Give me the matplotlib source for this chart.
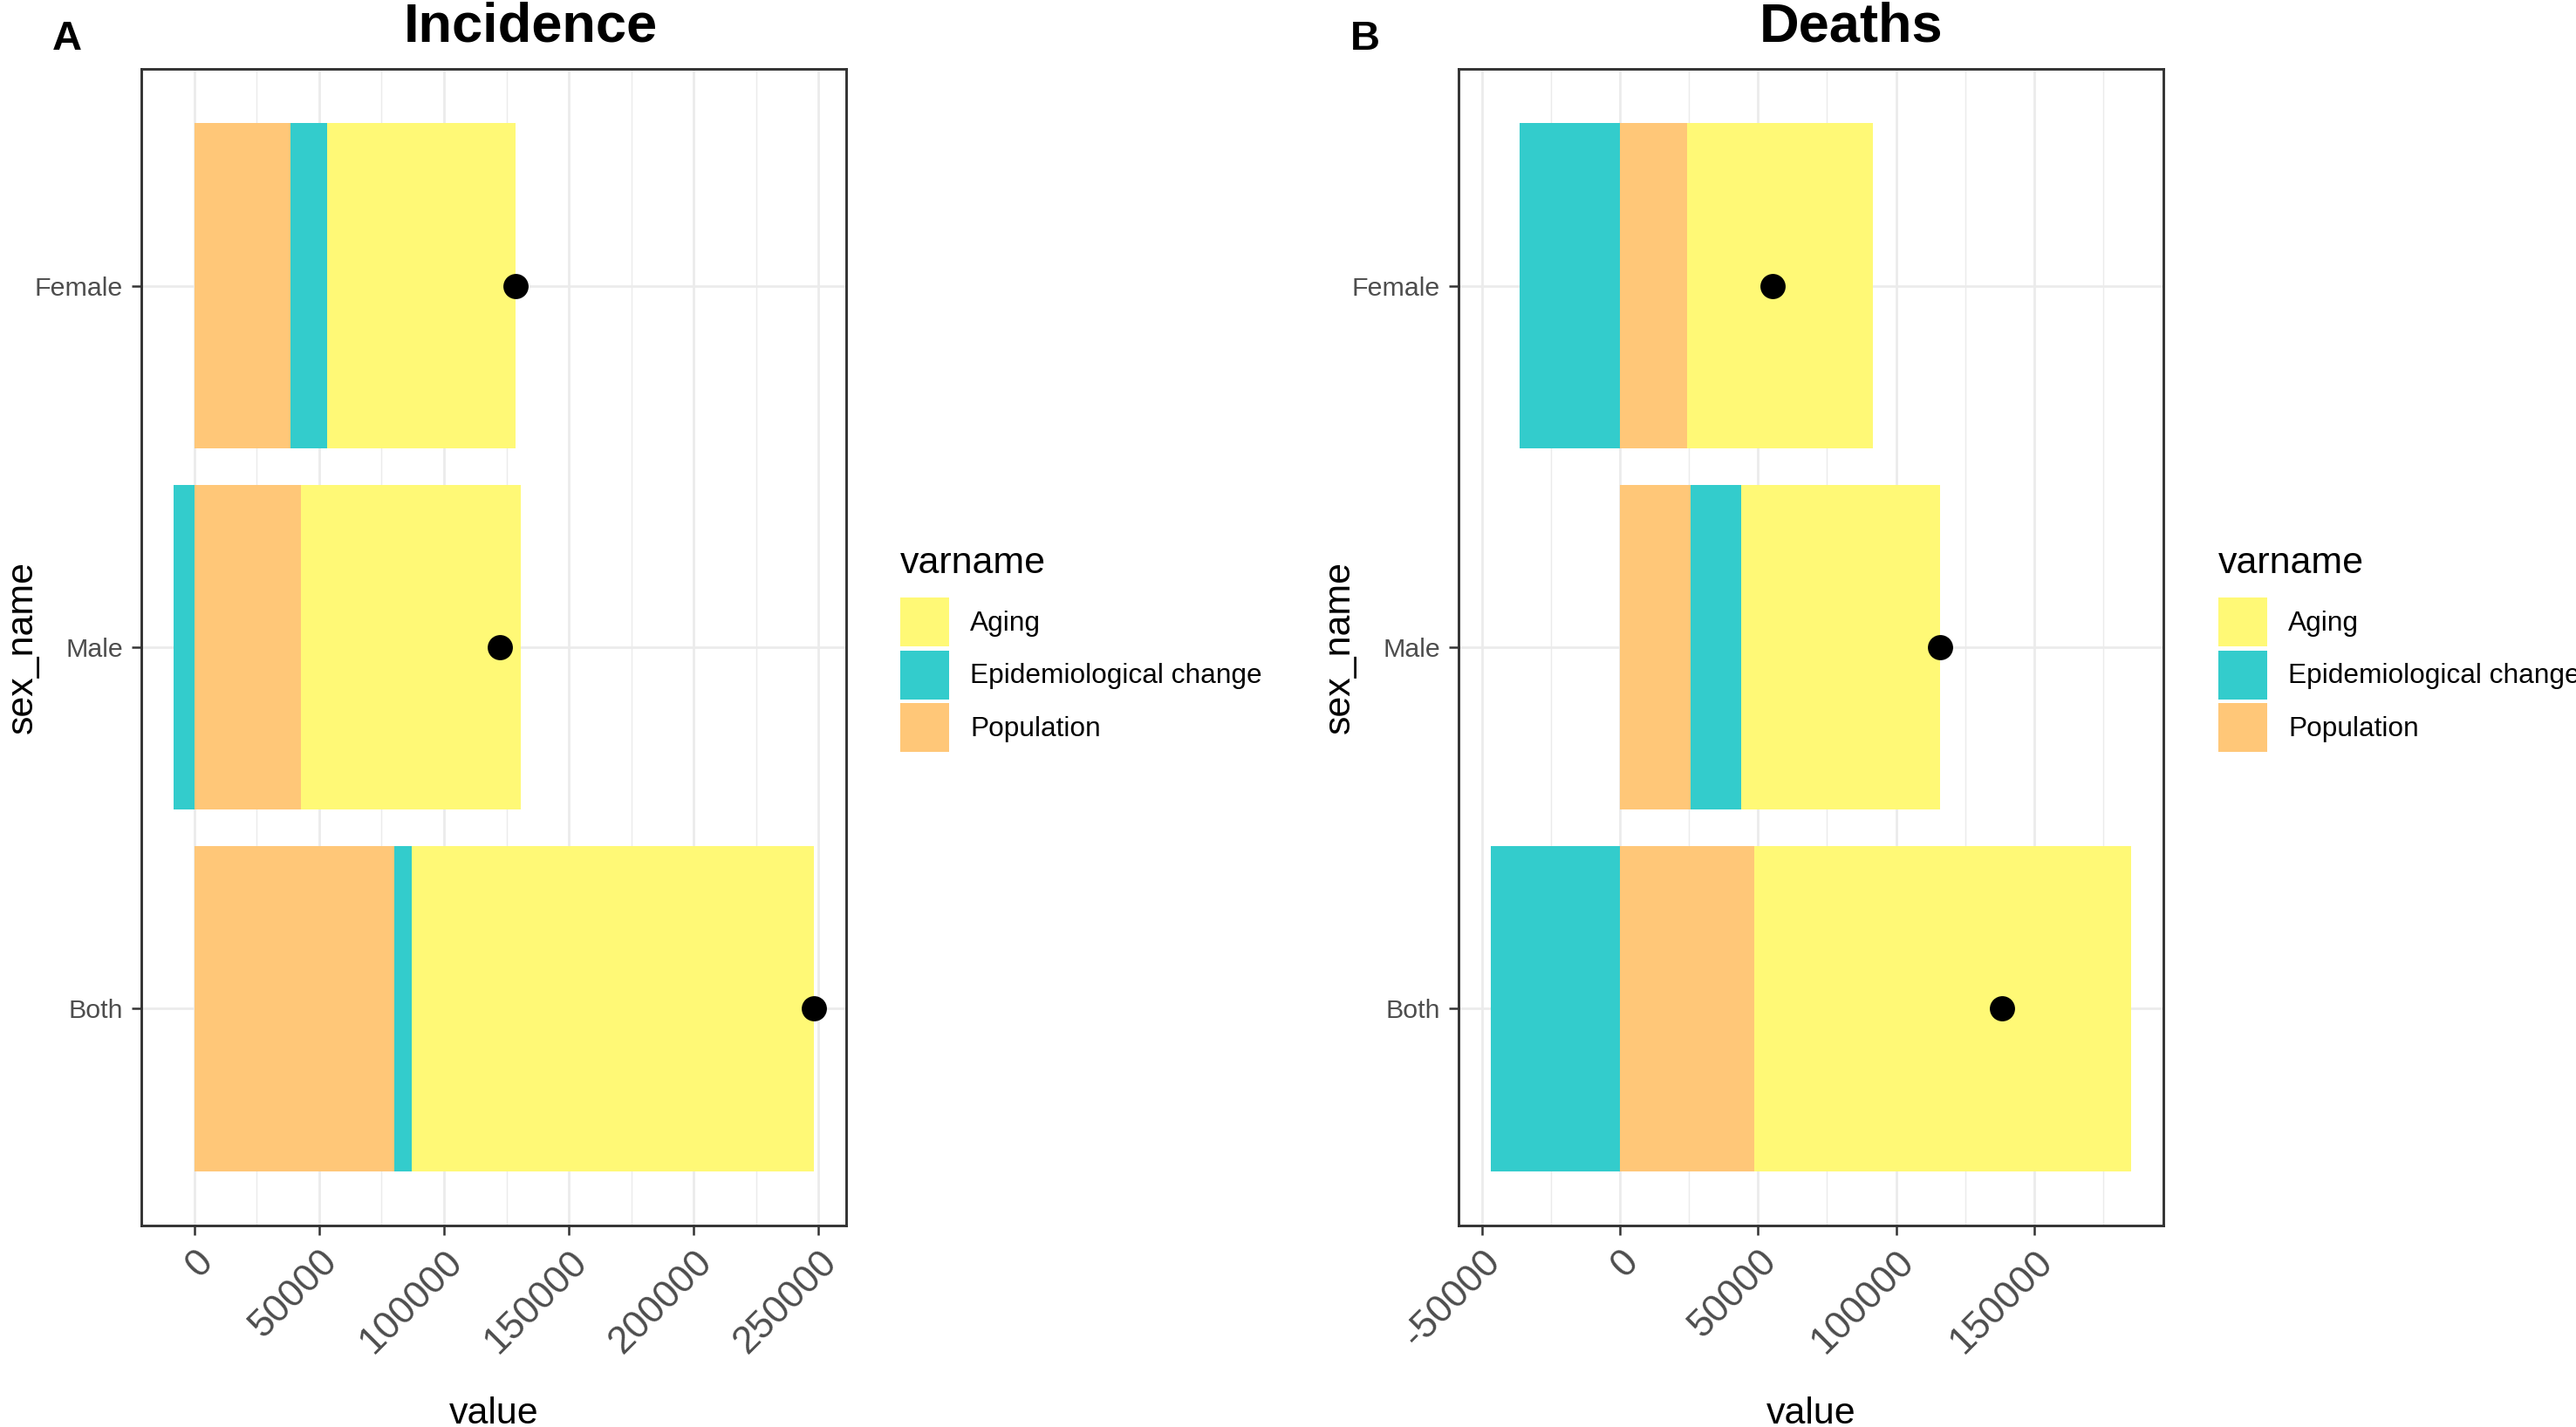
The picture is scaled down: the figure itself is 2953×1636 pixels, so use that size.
import numpy as np
import matplotlib
matplotlib.use("Agg")
import matplotlib.pyplot as plt
from matplotlib.patches import Patch
from matplotlib.ticker import MultipleLocator

plt.rcParams['font.family'] = ['Liberation Sans', 'DejaVu Sans']

# ---------------- data ----------------
categories = ["Both", "Male", "Female"]
varnames = ["Aging", "Epidemiological change", "Population"]
stack_order = ["Population", "Epidemiological change", "Aging"]
colors = {"Aging": "#FFF976", "Epidemiological change": "#33CCCC", "Population": "#FFC778"}

# Incidence
inc_population = [80000, 42600, 38500]
inc_epi = [7200, -8400, 14600]
inc_aging = [161000, 88000, 75500]

# Deaths
dea_population = [48700, 25500, 24300]
dea_epi = [-46800, 18400, -36200]
dea_aging = [136500, 71900, 67200]

panels = [
    ("A", "Incidence", {"Population": inc_population, "Epidemiological change": inc_epi, "Aging": inc_aging},
     [0, 50000, 100000, 150000, 200000, 250000]),
    ("B", "Deaths", {"Population": dea_population, "Epidemiological change": dea_epi, "Aging": dea_aging},
     [-50000, 0, 50000, 100000, 150000]),
]

W, H = 2953, 1636
DPI = 300
fig = plt.figure(figsize=(W / DPI, H / DPI), dpi=DPI)

def fx(px):
    return px / W

def fy(py):
    return 1 - py / H

ax_left_px = [162, 1672]
ax_w_px = 808
ax_top_px, ax_bot_px = 79, 1405
grid_col = "#EBEBEB"
txt_grey = "#4D4D4D"

for i, (tag, title, vals, ticks) in enumerate(panels):
    L = ax_left_px[i]
    ax = fig.add_axes([fx(L), fy(ax_bot_px), ax_w_px / W, (ax_bot_px - ax_top_px) / H])
    y = np.arange(1, len(categories) + 1)
    pos_cum = np.zeros(len(categories))
    neg_cum = np.zeros(len(categories))
    for v in stack_order:
        arr = np.array(vals[v], dtype=float)
        left = np.where(arr >= 0, pos_cum, neg_cum + arr)
        ax.barh(y, np.abs(arr), left=left, height=0.9, color=colors[v], zorder=2, linewidth=0)
        pos_cum = pos_cum + np.where(arr >= 0, arr, 0)
        neg_cum = neg_cum + np.where(arr < 0, arr, 0)
    total = sum(np.array(vals[v], dtype=float) for v in stack_order)
    ax.scatter(total, y, s=48, color="black", zorder=3, linewidths=0)

    lo, hi = neg_cum.min(), pos_cum.max()
    pad = 0.05 * (hi - lo)
    ax.set_xlim(lo - pad, hi + pad)
    ax.set_ylim(0.4, len(categories) + 0.6)

    ax.set_xticks(ticks)
    ax.set_xticklabels([str(t) for t in ticks], rotation=45, ha="right", va="top",
                       rotation_mode="anchor", color=txt_grey, fontsize=10.6)
    ax.xaxis.set_minor_locator(MultipleLocator(25000))
    ax.set_yticks(y)
    ax.set_yticklabels(categories, color=txt_grey, fontsize=7.3)
    ax.tick_params(axis="both", which="major", length=2.6, width=0.6, color="#333333", pad=2.4)
    ax.tick_params(axis="x", which="minor", length=0)
    ax.grid(True, which="major", color=grid_col, linewidth=0.65, zorder=0)
    ax.grid(True, which="minor", axis="x", color=grid_col, linewidth=0.35, zorder=0)
    ax.set_axisbelow(True)
    for s in ax.spines.values():
        s.set_color("#333333")
        s.set_linewidth(0.7)

    # titles & tags
    cx = [608, 2122][i]
    fig.text(fx(cx), fy(47), title, ha="center", va="baseline", fontsize=15.2, fontweight="bold")
    fig.text(fx([60, 1548][i]), fy(57), tag, ha="left", va="baseline", fontsize=11.3, fontweight="bold")
    # axis titles
    fig.text(fx(L + ax_w_px / 2), fy(1632), "value", ha="center", va="baseline", fontsize=10.3)
    fig.text(fx([26, 1536][i]), fy((ax_top_px + ax_bot_px) / 2), "sex_name", ha="center", va="center",
             rotation=90, fontsize=10.3)

    # legend
    handles = [Patch(facecolor=colors[v], edgecolor="none", label=v) for v in varnames]
    leg = fig.legend(handles=handles, title="varname", loc="upper left",
                     bbox_to_anchor=(fx([1032, 2543][i]), fy(626)), bbox_transform=fig.transFigure,
                     frameon=False, fontsize=7.6, title_fontsize=10.3, alignment="left",
                     handlelength=1.77, handleheight=2.33, labelspacing=0.155,
                     handletextpad=0.76, borderpad=0, borderaxespad=0)
    leg._legend_box.sep = 4.6

fig.savefig("out.png", dpi=DPI)
